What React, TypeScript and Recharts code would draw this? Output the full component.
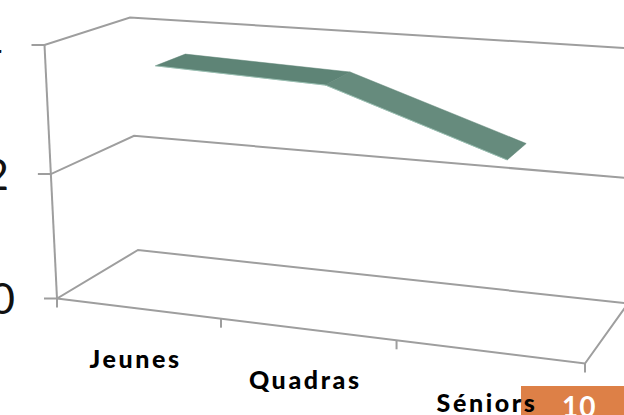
import React from "react";
import { LineChart, Line, XAxis, YAxis } from "recharts";

const categories = ["Jeunes", "Quadras", "Séniors"];
const values = [3.62, 3.52, 2.62];
const yTicks = [0, 2, 4];
const pageNumber = "10";

const data = categories.map((name, i) => ({ name, value: values[i] }));

const WIDTH = 624;
const HEIGHT = 415;
// axes need at least 1px to be drawn at all
const AXIS_SIZE = 1;
const PLOT_W = WIDTH - AXIS_SIZE;
const PLOT_H = HEIGHT - AXIS_SIZE;
const GRID = "#9e9e9e";
const GRID_W = 2;
const LABEL_FONT = "Lato, 'Open Sans', sans-serif";

// corners of the 3D box on screen: F = front, B = back, 0/4 = axis value, L/R = side
const F0L = [57, 298.5];
const F4L = [44.5, 45];
const F0R = [585, 363.5];
const F4R = [590, 85];
const B0L = [138, 250];
const B4L = [130, 17.5];
const B0R = [628, 303.5];
const B4R = [632, 48.5];

// how far the ribbon sits between the front (0) and back (1) of the box
const RIBBON_FRONT = 0.34;
const RIBBON_BACK = 0.72;

const mix = (a: number, b: number, k: number) => a + (b - a) * k;
const perspective = (k: number, s: number) => k / (k + s * (1 - k));
const toT = (x: number) => (x - AXIS_SIZE) / PLOT_W;
const toV = (y: number) => 1 - y / PLOT_H;

// t: 0..1 along the categories, v: 0..1 up the value axis, d: 0..1 into the depth
function project(t: number, v: number, d: number): [number, number] {
  const tw = perspective(t, 1.11);
  const vw = perspective(v, 1.037);
  const at = (i: number) => {
    const floorFront = mix(F0L[i], F0R[i], tw);
    const floorBack = mix(B0L[i], B0R[i], tw);
    const topFront = mix(F4L[i], F4R[i], tw);
    const topBack = mix(B4L[i], B4R[i], tw);
    return mix(mix(floorFront, floorBack, d), mix(topFront, topBack, d), vw);
  };
  return [at(0), at(1)];
}

const toPath = (pts: [number, number][]) =>
  pts.map((p, i) => (i === 0 ? "M" : "L") + p[0].toFixed(1) + " " + p[1].toFixed(1)).join(" ");

function ValueTick({ y, payload }: any) {
  const v = toV(y);
  const front = project(0, v, 0);
  const back = project(0, v, 1);
  const right = project(1, v, 1);
  const base = payload.value === yTicks[0];
  const top = payload.value === yTicks[yTicks.length - 1];
  const tickStart = front[0] - 13;
  return (
    <g>
      <path
        d={`M${tickStart} ${front[1]} L${front[0]} ${front[1]} L${back[0]} ${back[1]} L${right[0]} ${right[1]}`}
        fill="none"
        stroke={GRID}
        strokeWidth={GRID_W}
      />
      {base && (
        <path
          d={toPath([project(0, 0, 0), project(1, 0, 0), project(1, 0, 1)])}
          fill="none"
          stroke={GRID}
          strokeWidth={GRID_W}
        />
      )}
      {top && (
        <path d={toPath([project(0, 1, 0), project(0, 0, 0)])} fill="none" stroke={GRID} strokeWidth={GRID_W} />
      )}
      <text
        x={tickStart - 29}
        y={front[1] + 15.5}
        textAnchor="end"
        fontFamily={LABEL_FONT}
        fontWeight={400}
        fontSize={43}
        fill="#111"
      >
        {payload.value}
      </text>
    </g>
  );
}

function CategoryTick({ x, index, payload }: any) {
  const t = toT(x);
  const half = 1 / (2 * categories.length);
  const edges = index === 0 ? [t - half, t + half] : [t + half];
  const foot = project(t, 0, 0);
  return (
    <g>
      {edges.map((e) => {
        const p = project(e, 0, 0);
        return <path key={e} d={`M${p[0]} ${p[1]} L${p[0]} ${p[1] + 9}`} stroke={GRID} strokeWidth={GRID_W} />;
      })}
      <text
        x={foot[0] - 2}
        y={foot[1] + 60}
        textAnchor="middle"
        fontFamily={LABEL_FONT}
        fontWeight={900}
        fontSize={25}
        letterSpacing={2.6}
        fill="#000"
      >
        {payload.value}
      </text>
    </g>
  );
}

// one flat band per pair of neighbouring points
function RibbonSegment({ index, points }: any) {
  if (!points || index >= points.length - 1) return <g key={index} />;
  const a = points[index];
  const b = points[index + 1];
  const outline: [number, number][] = [
    project(toT(a.x), toV(a.y), RIBBON_FRONT),
    project(toT(a.x), toV(a.y), RIBBON_BACK),
    project(toT(b.x), toV(b.y), RIBBON_BACK),
    project(toT(b.x), toV(b.y), RIBBON_FRONT),
  ];
  const frontEdge = [outline[0], outline[3]] as [number, number][];
  return (
    <g key={index}>
      <path d={toPath(outline) + " Z"} fill={index === 0 ? "#5e8476" : "#668b7d"} stroke="#5e8476" strokeWidth={0.5} />
      <path d={toPath(frontEdge)} fill="none" stroke="#9cc4b6" strokeWidth={0.8} />
    </g>
  );
}

export default function App() {
  return (
    <div style={{ position: "absolute", left: 0, top: 0, width: WIDTH, height: HEIGHT, overflow: "hidden", background: "#fff" }}>
      <div
        style={{
          position: "absolute",
          left: 521,
          top: 386,
          width: 103,
          height: 29,
          background: "#dd8047",
        }}
      />
      <div style={{ position: "absolute", left: 0, top: 0 }}>
        <LineChart width={WIDTH} height={HEIGHT} data={data} margin={{ top: 0, right: 0, bottom: 0, left: 0 }}>
          <XAxis
            dataKey="name"
            scale="band"
            height={AXIS_SIZE}
            interval={0}
            axisLine={false}
            tickLine={false}
            tick={CategoryTick}
          />
          <YAxis
            type="number"
            domain={[0, 4]}
            ticks={yTicks}
            width={AXIS_SIZE}
            interval={0}
            axisLine={false}
            tickLine={false}
            tick={ValueTick}
          />
          <Line dataKey="value" stroke="none" isAnimationActive={false} dot={RibbonSegment} activeDot={false} />
        </LineChart>
      </div>
      <div
        style={{
          position: "absolute",
          left: 562,
          top: 389,
          fontFamily: LABEL_FONT,
          fontWeight: 700,
          fontSize: 28,
          lineHeight: "34px",
          letterSpacing: 1,
          color: "#fff",
        }}
      >
        {pageNumber}
      </div>
    </div>
  );
}
